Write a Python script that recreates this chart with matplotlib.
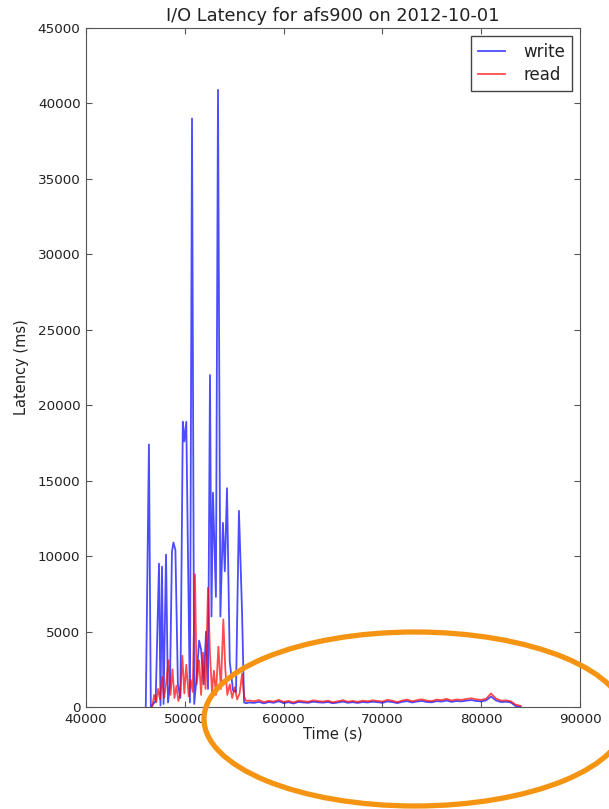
import numpy as np
import matplotlib
matplotlib.use("Agg")
import matplotlib.pyplot as plt
from matplotlib.patches import Ellipse

# busy period: irregular samples
write_burst_t = [46050, 46370, 46560, 46800, 47050, 47390, 47540, 47690, 47850, 48100,
                 48300, 48500, 48700, 48850, 49050, 49300, 49550, 49800, 49950, 50150,
                 50350, 50520, 50730, 50950, 51200, 51450, 51650, 51900, 52150, 52350,
                 52550, 52700, 52850, 53150, 53360, 53600, 53860, 54050, 54270, 54550,
                 54880, 55180, 55480, 55790, 56000, 56200]
write_burst_ms = [0, 17400, 0, 200, 400, 9500, 100, 9300, 200, 10100,
                  300, 1500, 10300, 10900, 10400, 1500, 600, 18900, 17600, 18900,
                  8600, 300, 39000, 200, 2000, 4400, 3800, 1500, 5000, 1200,
                  22000, 6000, 14200, 7300, 40900, 6000, 12200, 9000, 14500, 3000,
                  1100, 1000, 13000, 6400, 300, 250]

read_burst_t = [46700, 46900, 47100, 47300, 47500, 47700, 47900, 48100, 48350, 48550,
                48750, 48950, 49150, 49350, 49550, 49750, 49950, 50150, 50400, 50600,
                50800, 51030, 51200, 51450, 51650, 51850, 52100, 52350, 52550, 52750,
                52950, 53150, 53400, 53650, 53900, 54100, 54300, 54550, 54800, 55050,
                55300, 55550, 55800, 56000, 56200]
read_burst_ms = [0, 800, 300, 1200, 500, 2000, 600, 1500, 3100, 800,
                 2500, 600, 1400, 400, 900, 3400, 900, 2800, 700, 1800,
                 1000, 8800, 1500, 3100, 800, 3600, 1200, 7900, 3500, 1000,
                 2400, 800, 4000, 1200, 5800, 2500, 800, 1500, 600, 1300,
                 500, 900, 2200, 700, 400]

# quiet period: one sample every 500 s
quiet_t = np.arange(56500, 84001, 500)
write_quiet_ms = [300, 270, 340, 240, 330, 280, 380, 260, 320, 230,
                  340, 300, 280, 350, 310, 290, 330, 250, 300, 360,
                  280, 320, 270, 330, 300, 350, 320, 280, 370, 330,
                  260, 340, 390, 300, 360, 400, 330, 310, 390, 360,
                  430, 340, 400, 370, 420, 460, 400, 370, 440, 700,
                  430, 330, 350, 300, 60, 0]
read_quiet_ms = [430, 380, 460, 330, 410, 360, 470, 340, 400, 300,
                 420, 380, 350, 440, 390, 360, 420, 310, 380, 450,
                 350, 400, 340, 420, 380, 440, 400, 360, 470, 420,
                 320, 430, 490, 380, 450, 510, 420, 390, 490, 460,
                 540, 430, 500, 470, 530, 580, 510, 470, 550, 900,
                 560, 420, 440, 380, 150, 80]

write_t = np.concatenate([write_burst_t, quiet_t])
write_ms = np.concatenate([write_burst_ms, write_quiet_ms])
read_t = np.concatenate([read_burst_t, quiet_t])
read_ms = np.concatenate([read_burst_ms, read_quiet_ms])

plt.rcParams['font.family'] = 'DejaVu Sans'
txt = '#222222'

fig = plt.figure(figsize=(6.09, 8.09), dpi=100)
ax = fig.add_axes([86 / 609, 1 - 707 / 809, 494 / 609, 679 / 809])

ax.plot(write_t, write_ms, color='blue', lw=1.3, alpha=0.7, label='write')
ax.plot(read_t, read_ms, color='red', lw=1.3, alpha=0.7, label='read')

ax.set_xlim(40000, 90000)
ax.set_ylim(0, 45000)
ax.set_xticks(np.arange(40000, 90001, 10000))
ax.set_yticks(np.arange(0, 45001, 5000))
ax.tick_params(direction='in', top=True, right=True, length=4, pad=4,
               labelsize=9.7, colors='#555555', labelcolor=txt)
for s in ax.spines.values():
    s.set_color('#555555')

ax.set_title('I/O Latency for afs900 on 2012-10-01', fontsize=12.8, color=txt, pad=5)
ax.set_xlabel('Time (s)', fontsize=10.5, color=txt, labelpad=1)
ax.set_ylabel('Latency (ms)', fontsize=10.5, color=txt, labelpad=6)

leg = ax.legend(loc='upper right', fontsize=12, fancybox=False, framealpha=1,
                handlelength=1.6, handletextpad=1.1, borderpad=0.4, labelspacing=0.3,
                borderaxespad=0.5)
leg.get_frame().set_edgecolor('#444444')
leg.get_frame().set_linewidth(1.0)
for t in leg.get_texts():
    t.set_color(txt)

# orange highlight drawn on top of the figure
ring = Ellipse((415 / 609, 1 - 719 / 809), 422 / 609, 174 / 809,
               transform=fig.transFigure, fill=False, edgecolor='#F59412',
               lw=3.8, clip_on=False)
fig.add_artist(ring)

fig.savefig('out.png', dpi=100)
